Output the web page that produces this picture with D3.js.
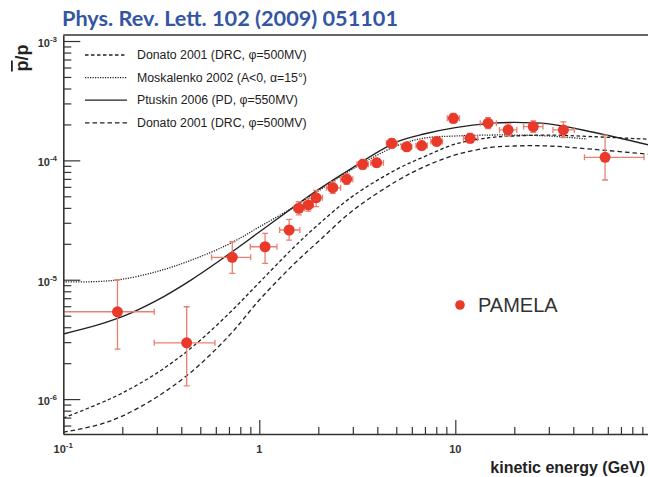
<!DOCTYPE html>
<html>
<head>
<meta charset="utf-8">
<script src="https://cdn.jsdelivr.net/npm/d3@7"></script>
<style>
  body { margin: 0; background: #fff; }
  svg { display: block; font-family: "Liberation Sans", Arial, sans-serif; }
</style>
</head>
<body>
<div id="chart"></div>
<script>
// PAMELA antiproton / proton ratio
const pamelaE   = [0.189, 0.426, 0.728, 1.07, 1.42, 1.59, 1.78, 1.95, 2.37, 2.79, 3.37, 3.97, 4.74, 5.65, 6.74, 8.04, 9.78, 11.9, 14.7, 18.6, 25.0, 35.6, 58.1];
const pamelaR   = [5.39e-6, 2.96e-6, 1.54e-5, 1.89e-5, 2.61e-5, 3.97e-5, 4.23e-5, 4.86e-5, 5.9e-5, 6.95e-5, 9.27e-5, 9.57e-5, 1.39e-4, 1.30e-4, 1.33e-4, 1.44e-4, 2.25e-4, 1.53e-4, 2.05e-4, 1.80e-4, 1.92e-4, 1.80e-4, 1.06e-4];
const pamelaElo = [0.1, 0.291, 0.571, 0.90, 1.27, 1.50, 1.68, 1.85, 2.2, 2.6, 3.15, 3.7, 4.45, 5.3, 6.3, 7.5, 9.1, 11.0, 13.4, 16.8, 22.3, 31.5, 45.6];
const pamelaEhi = [0.291, 0.594, 0.904, 1.23, 1.61, 1.70, 1.88, 2.10, 2.6, 3.0, 3.6, 4.3, 5.05, 6.0, 7.2, 8.6, 10.5, 13.0, 16.2, 20.6, 28.0, 40.5, 91.8];
const pamelaRlo = [2.62e-6, 1.29e-6, 1.13e-5, 1.37e-5, 2.15e-5, 3.5e-5, 3.75e-5, 4.1e-5, 5.3e-5, 6.3e-5, 8.4e-5, 8.8e-5, 1.27e-4, 1.2e-4, 1.23e-4, 1.33e-4, 2.05e-4, 1.4e-4, 1.85e-4, 1.6e-4, 1.72e-4, 1.55e-4, 6.85e-5];
const pamelaRhi = [1.0e-5, 5.94e-6, 2.08e-5, 2.45e-5, 3.2e-5, 4.5e-5, 4.8e-5, 5.6e-5, 6.6e-5, 7.7e-5, 1.02e-4, 1.04e-4, 1.52e-4, 1.41e-4, 1.44e-4, 1.56e-4, 2.47e-4, 1.68e-4, 2.28e-4, 2.02e-4, 2.14e-4, 2.1e-4, 1.63e-4];

// model curves
const curveE     = [0.1, 0.15, 0.2, 0.3, 0.45, 0.7, 1, 1.5, 2, 3, 5, 7, 10, 15, 20, 30, 50, 100];
const ptuskin    = [3.51e-6, 4.18e-6, 4.90e-6, 6.71e-6, 9.98e-6, 1.64e-5, 2.51e-5, 4.08e-5, 5.69e-5, 8.71e-5, 1.42e-4, 1.67e-4, 1.88e-4, 2.04e-4, 2.08e-4, 2.02e-4, 1.73e-4, 1.33e-4];
const donatoHigh = [6.93e-7, 9.06e-7, 1.125e-6, 1.65e-6, 2.69e-6, 5.21e-6, 9.48e-6, 1.87e-5, 2.90e-5, 5.02e-5, 8.38e-5, 1.08e-4, 1.37e-4, 1.55e-4, 1.60e-4, 1.63e-4, 1.58e-4, 1.50e-4];
const donatoLow  = [5.28e-7, 6.07e-7, 7.21e-7, 1.04e-6, 1.69e-6, 3.39e-6, 6.76e-6, 1.35e-5, 2.09e-5, 3.80e-5, 6.68e-5, 8.89e-5, 1.11e-4, 1.28e-4, 1.32e-4, 1.32e-4, 1.24e-4, 1.12e-4];
const moskE      = [0.1, 0.15, 0.2, 0.3, 0.45, 0.7, 1, 1.5, 2, 3, 5, 7, 10, 15, 20, 30, 47];
const moskalenko = [9.6e-6, 9.66e-6, 1.01e-5, 1.17e-5, 1.46e-5, 1.99e-5, 2.77e-5, 4.07e-5, 5.54e-5, 8.48e-5, 1.32e-4, 1.54e-4, 1.60e-4, 1.63e-4, 1.63e-4, 1.60e-4, 1.51e-4];

const xMajor = [0.1, 1, 10];
const xMajorLabels = [["10", "-1"], ["1", ""], ["10", ""]];
const yMajor = [1e-6, 1e-5, 1e-4, 1e-3];
const yMajorExp = ["-6", "-5", "-4", "-3"];

const legendItems = [
  { label: "Donato 2001 (DRC, \u03c6=500MV)", dash: "3.5,2.5" },
  { label: "Moskalenko 2002 (A<0, \u03b1=15\u00b0)", dash: "1.2,1.3" },
  { label: "Ptuskin 2006 (PD, \u03c6=550MV)", dash: null },
  { label: "Donato 2001 (DRC, \u03c6=500MV)", dash: "4.5,3" }
];

const W = 648, H = 477;
const plotL = 63.3, plotR = 651.3, plotT = 35, plotB = 434;
const axisColor = "#333";
const red = "#e8392b", errRed = "#e9806f";

const svg = d3.select("#chart").append("svg")
  .attr("width", W).attr("height", H);

// title
svg.append("text")
  .attr("x", 62).attr("y", 26)
  .attr("fill", "#3456a2")
  .style("font-family", "Lato, 'Open Sans', sans-serif")
  .style("font-weight", "bold")
  .style("font-size", "20px")
  .attr("textLength", 336)
  .attr("lengthAdjust", "spacingAndGlyphs")
  .text("Phys. Rev. Lett. 102 (2009) 051101");

const x = d3.scaleLog().domain([0.1, 100]).range([plotL, plotR]);
const y = d3.scaleLog().domain([5.1e-7, 1.123e-3]).range([plotB, plotT]);

svg.append("clipPath").attr("id", "clip")
  .append("rect").attr("x", plotL).attr("y", plotT)
  .attr("width", plotR - plotL).attr("height", plotB - plotT);

const plot = svg.append("g").attr("clip-path", "url(#clip)");

// model curves
const line = d3.line()
  .x(d => x(d[0]))
  .y(d => y(d[1]))
  .curve(d3.curveCatmullRom.alpha(0.5));

const curves = [
  { e: curveE, v: donatoHigh, dash: legendItems[0].dash, w: 1.3 },
  { e: moskE, v: moskalenko, dash: legendItems[1].dash, w: 1.3 },
  { e: curveE, v: ptuskin, dash: null, w: 1.4 },
  { e: curveE, v: donatoLow, dash: legendItems[3].dash, w: 1.3 }
];
curves.forEach(c => {
  plot.append("path")
    .datum(d3.zip(c.e, c.v))
    .attr("fill", "none")
    .attr("stroke", "#222")
    .attr("stroke-width", c.w)
    .attr("stroke-dasharray", c.dash)
    .attr("d", line);
});

// error bars
const pts = pamelaE.map((e, i) => ({
  e, r: pamelaR[i], elo: pamelaElo[i], ehi: pamelaEhi[i], rlo: pamelaRlo[i], rhi: pamelaRhi[i]
}));
const cap = 3;
const eb = plot.append("g")
  .attr("stroke", errRed)
  .attr("stroke-width", 1.3);
pts.forEach(d => {
  const cx = x(d.e), cy = y(d.r);
  eb.append("line").attr("x1", x(d.elo)).attr("x2", x(d.ehi)).attr("y1", cy).attr("y2", cy);
  eb.append("line").attr("x1", cx).attr("x2", cx).attr("y1", y(d.rlo)).attr("y2", y(d.rhi));
  eb.append("line").attr("x1", x(d.elo)).attr("x2", x(d.elo)).attr("y1", cy - cap).attr("y2", cy + cap);
  eb.append("line").attr("x1", x(d.ehi)).attr("x2", x(d.ehi)).attr("y1", cy - cap).attr("y2", cy + cap);
  eb.append("line").attr("x1", cx - cap).attr("x2", cx + cap).attr("y1", y(d.rlo)).attr("y2", y(d.rlo));
  eb.append("line").attr("x1", cx - cap).attr("x2", cx + cap).attr("y1", y(d.rhi)).attr("y2", y(d.rhi));
});

plot.selectAll("circle.pt")
  .data(pts)
  .enter().append("circle")
  .attr("class", "pt")
  .attr("cx", d => x(d.e))
  .attr("cy", d => y(d.r))
  .attr("r", 5.5)
  .attr("fill", red);

// axes
function logTicks(lo, hi) {
  const t = [];
  for (let p = Math.floor(Math.log10(lo)); p <= Math.ceil(Math.log10(hi)); p++) {
    for (let m = 1; m < 10; m++) {
      const v = m * Math.pow(10, p);
      if (v >= lo * 0.999 && v <= hi * 1.001) t.push(v);
    }
  }
  return t;
}
const isMajor = v => Math.abs(Math.log10(v) - Math.round(Math.log10(v))) < 1e-6;

const gx = svg.append("g")
  .attr("transform", "translate(0," + plotB + ")")
  .call(d3.axisBottom(x).tickValues(logTicks(0.1, 100)).tickSizeInner(-7).tickSizeOuter(0).tickFormat(""));
const gy = svg.append("g")
  .attr("transform", "translate(" + plotL + ",0)")
  .call(d3.axisLeft(y).tickValues(logTicks(5.1e-7, 1.12e-3)).tickSizeInner(-8).tickSizeOuter(0).tickFormat(""));

[gx, gy].forEach(g => {
  g.select(".domain").attr("stroke", axisColor).attr("stroke-width", 1.6);
  g.selectAll(".tick line").attr("stroke", axisColor).attr("stroke-width", 1.2);
});
gx.selectAll(".tick line").filter(d => isMajor(d)).attr("y2", -14);
gy.selectAll(".tick line").filter(d => isMajor(d)).attr("x2", 17);

// top frame line
svg.append("line")
  .attr("x1", plotL).attr("x2", W).attr("y1", plotT).attr("y2", plotT)
  .attr("stroke", axisColor).attr("stroke-width", 1.6);

// tick labels
const tickStyle = sel => sel
  .attr("fill", axisColor)
  .style("font-weight", "bold")
  .style("font-size", "11px");

xMajor.forEach((v, i) => {
  const t = svg.append("text")
    .attr("x", x(v)).attr("y", 453)
    .attr("text-anchor", "middle")
    .call(tickStyle);
  t.append("tspan").text(xMajorLabels[i][0]);
  if (xMajorLabels[i][1]) {
    t.append("tspan").attr("dy", -5).style("font-size", "8px").text(xMajorLabels[i][1]);
  }
});

yMajor.forEach((v, i) => {
  const t = svg.append("text")
    .attr("x", 57).attr("y", y(v) + 6)
    .attr("text-anchor", "end")
    .call(tickStyle);
  t.append("tspan").text("10");
  t.append("tspan").attr("dy", -5).style("font-size", "8px").text(yMajorExp[i]);
});

// axis titles
svg.append("text")
  .attr("x", 645).attr("y", 473)
  .attr("text-anchor", "end")
  .attr("fill", "#222")
  .style("font-weight", "bold")
  .style("font-size", "16px")
  .text("kinetic energy (GeV)");

const yl = svg.append("text")
  .attr("transform", "translate(28,58) rotate(-90)")
  .attr("text-anchor", "middle")
  .attr("fill", "#222")
  .style("font-weight", "bold")
  .style("font-size", "18px");
yl.append("tspan").style("text-decoration", "overline").text("p");
yl.append("tspan").text("/p");

// legend
const lg = svg.append("g");
legendItems.forEach((d, i) => {
  const ly = 55 + i * 22.6;
  lg.append("line")
    .attr("x1", 85).attr("x2", 127).attr("y1", ly).attr("y2", ly)
    .attr("stroke", "#222").attr("stroke-width", 1.3)
    .attr("stroke-dasharray", d.dash);
  lg.append("text")
    .attr("x", 137).attr("y", ly + 4)
    .attr("fill", "#222")
    .style("font-size", "12.3px")
    .text(d.label);
});

// PAMELA key
svg.append("circle").attr("cx", 460).attr("cy", 305).attr("r", 4.8).attr("fill", red);
svg.append("text")
  .attr("x", 478).attr("y", 312)
  .attr("fill", "#333")
  .style("font-size", "20px")
  .text("PAMELA");
</script>
</body>
</html>
